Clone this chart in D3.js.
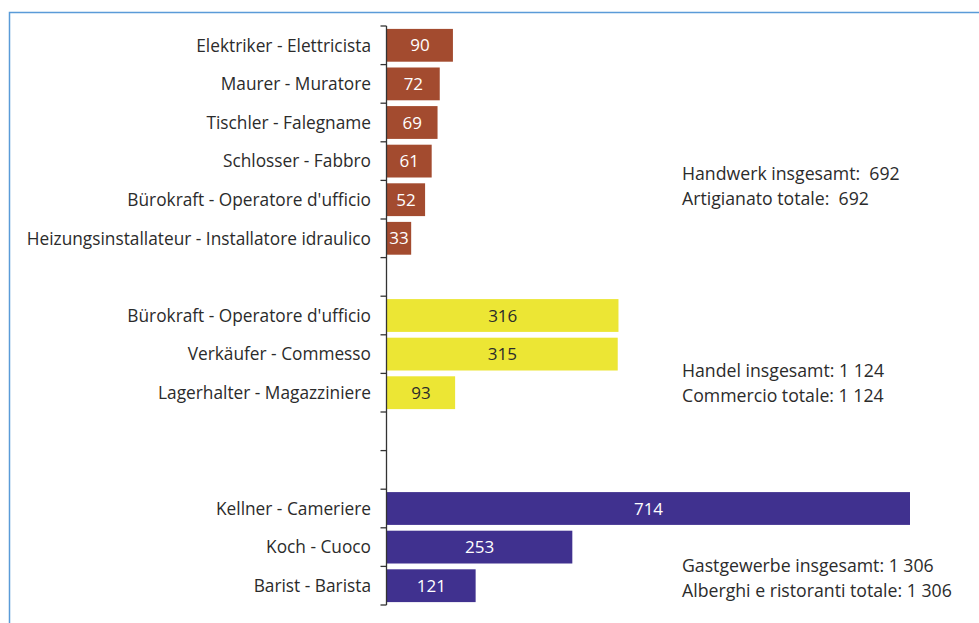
<!DOCTYPE html>
<html lang="de">
<head>
  <meta charset="UTF-8">
  <title>Berufe</title>
  <style>
    body { margin: 0; background: #fff; }
    svg { display: block; font-family: "Open Sans", "Noto Sans", sans-serif; }
    text { white-space: pre; }
  </style>
</head>
<body>
  <div id="chart"></div>
  <script src="https://d3js.org/d3.v7.min.js"></script>
  <script>
    // groups of the chart, top to bottom
    const handwerkLabels = [
      "Elektriker - Elettricista", "Maurer - Muratore", "Tischler - Falegname",
      "Schlosser - Fabbro", "Bürokraft - Operatore d'ufficio",
      "Heizungsinstallateur - Installatore idraulico"
    ];
    const handwerkValues = [90, 72, 69, 61, 52, 33];
    const handelLabels = ["Bürokraft - Operatore d'ufficio", "Verkäufer - Commesso", "Lagerhalter - Magazziniere"];
    const handelValues = [316, 315, 93];
    const gastLabels = ["Kellner - Cameriere", "Koch - Cuoco", "Barist - Barista"];
    const gastValues = [714, 253, 121];
    const totalsDe = ["Handwerk insgesamt:  692", "Handel insgesamt: 1 124", "Gastgewerbe insgesamt: 1 306"];
    const totalsIt = ["Artigianato totale:  692", "Commercio totale: 1 124", "Alberghi e ristoranti totale: 1 306"];
    const spacersAfter = [1, 2, 0];

    const colors = ["#a34b2f", "#ece634", "#40318f"];
    const textColors = ["#ffffff", "#2b2b2b", "#ffffff"];

    const groups = [
      { labels: handwerkLabels, values: handwerkValues },
      { labels: handelLabels, values: handelValues },
      { labels: gastLabels, values: gastValues }
    ];

    // build rows with blank spacer slots between groups
    const rows = [];
    groups.forEach((g, gi) => {
      g.labels.forEach((l, i) => rows.push({ key: gi + "-" + i, label: l, value: g.values[i], group: gi }));
      for (let s = 0; s < spacersAfter[gi]; s++) rows.push({ key: "sp" + gi + "-" + s, spacer: true });
    });

    const width = 979, height = 623;
    const yTop = 26, yBottom = 605, axisX = 386.5;

    const svg = d3.select("#chart").append("svg")
      .attr("width", width).attr("height", height);

    // frame
    svg.append("path")
      .attr("d", `M9.5,${height} V12.5 H${width}`)
      .attr("fill", "none")
      .attr("stroke", "#5a9bd8")
      .attr("stroke-width", 1.5);

    const y = d3.scaleBand()
      .domain(rows.map(d => d.key))
      .range([yTop, yBottom])
      .paddingInner(0.15)
      .paddingOuter(0.075);

    const x = d3.scaleLinear().domain([0, 714]).range([387, 910]);

    const bars = rows.filter(d => !d.spacer);

    svg.selectAll("rect.bar").data(bars).enter().append("rect")
      .attr("class", "bar")
      .attr("x", x(0))
      .attr("y", d => y(d.key))
      .attr("width", d => x(d.value) - x(0))
      .attr("height", y.bandwidth())
      .attr("fill", d => colors[d.group]);

    svg.selectAll("text.val").data(bars).enter().append("text")
      .attr("class", "val")
      .attr("x", d => (x(0) + x(d.value)) / 2)
      .attr("y", d => y(d.key) + y.bandwidth() / 2)
      .attr("dy", "0.36em")
      .attr("text-anchor", "middle")
      .attr("font-size", 17)
      .attr("fill", d => textColors[d.group])
      .text(d => d.value);

    svg.selectAll("text.cat").data(bars).enter().append("text")
      .attr("class", "cat")
      .attr("x", 371)
      .attr("y", d => y(d.key) + y.bandwidth() / 2)
      .attr("dy", "0.36em")
      .attr("text-anchor", "end")
      .attr("font-size", 17.3)
      .attr("fill", "#2b2b2b")
      .text(d => d.label);

    // axis line and ticks at band boundaries
    const step = y.step();
    svg.append("line")
      .attr("x1", axisX).attr("x2", axisX)
      .attr("y1", yTop).attr("y2", yBottom)
      .attr("stroke", "#333").attr("stroke-width", 1.3);
    svg.selectAll("line.tick").data(d3.range(rows.length + 1)).enter().append("line")
      .attr("class", "tick")
      .attr("x1", axisX - 6).attr("x2", axisX)
      .attr("y1", i => yTop + i * step).attr("y2", i => yTop + i * step)
      .attr("stroke", "#333").attr("stroke-width", 1.3);

    // group totals on the right
    const totalY = [180, 377, 572];
    totalY.forEach((ty, gi) => {
      const t = svg.append("text")
        .attr("x", 682).attr("y", ty)
        .attr("font-size", 17.7).attr("fill", "#2b2b2b");
      t.append("tspan").attr("x", 682).text(totalsDe[gi]);
      t.append("tspan").attr("x", 682).attr("dy", 25).text(totalsIt[gi]);
    });
  </script>
</body>
</html>
